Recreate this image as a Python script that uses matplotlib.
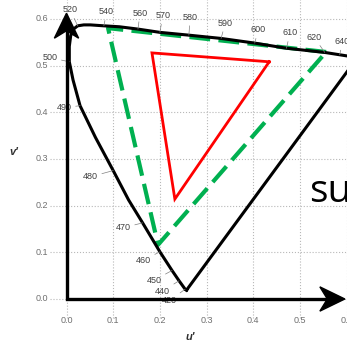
import numpy as np
import matplotlib
matplotlib.use("Agg")
import matplotlib.pyplot as plt
from matplotlib.patches import Polygon

# spectral locus (CIE 1976 u', v')
locus_nm = [380, 420, 440, 450, 460, 470, 475, 480, 485, 490, 495, 500, 505, 510, 515,
            520, 525, 530, 540, 550, 560, 570, 580, 590, 600, 610, 620, 640, 700]
locus_u = [0.257, 0.254, 0.241, 0.226, 0.200, 0.163, 0.133, 0.100, 0.062, 0.029, 0.014,
           0.006, 0.006, 0.009, 0.015, 0.024, 0.037, 0.051, 0.080, 0.113, 0.153, 0.200,
           0.262, 0.331, 0.403, 0.471, 0.553, 0.585, 0.623]
locus_v = [0.019, 0.021, 0.039, 0.061, 0.101, 0.163, 0.212, 0.275, 0.346, 0.414, 0.469,
           0.508, 0.541, 0.564, 0.578, 0.585, 0.587, 0.587, 0.585, 0.583, 0.578, 0.571,
           0.565, 0.558, 0.548, 0.537, 0.528, 0.523, 0.517]

# wavelengths that carry a label
label_nm = [420, 440, 450, 460, 470, 480, 490, 500, 520, 540, 560, 570, 580, 590,
            600, 610, 620, 640]

# gamut triangles, corners R, G, B
wide_u = [0.556, 0.089, 0.196]
wide_v = [0.529, 0.580, 0.116]
small_u = [0.434, 0.183, 0.232]
small_v = [0.508, 0.527, 0.214]

ticks = [0.0, 0.1, 0.2, 0.3, 0.4, 0.5, 0.6]
tick_labels = ['0.0', '0.1', '0.2', '0.3', '0.4', '0.5', '0.6']

# label offsets in points (placement only)
label_offset = {420: (-11.5, -8.5), 440: (-12, -7.5), 450: (-13, -7), 460: (-12, -6),
                470: (-14, -3.5), 480: (-16.5, -4.5), 490: (-11.5, -1.5), 500: (-14, 3),
                520: (-5.5, 11.5), 540: (2, 10), 560: (1.5, 11.5), 570: (2, 12),
                580: (1, 13), 590: (3, 11), 600: (2.5, 9.5), 610: (2.5, 11),
                620: (-7.7, 11), 640: (2, 9.5)}

plt.rcParams['font.family'] = ['Liberation Sans', 'DejaVu Sans']

fig = plt.figure(figsize=(3.47, 3.42), dpi=100)
ax = fig.add_axes([0, 0, 1, 1])
ax.set_xlim(-0.1424, 0.6006)
ax.set_ylim(-0.0921, 0.6403)
ax.axis('off')

# dotted grid
ax.hlines(ticks, -0.035, 0.62, colors='#b8b8b8', linestyles=':', lw=0.8, zorder=1)
ax.vlines(ticks, -0.04, 0.65, colors='#b8b8b8', linestyles=':', lw=0.8, zorder=1)

for t, lab in zip(ticks, tick_labels):
    ax.text(t, -0.045, lab, ha='center', va='center', fontsize=6.5, color='#707070')
    ax.text(-0.040, t, lab, ha='right', va='center', fontsize=6.5, color='#707070')

ax.text(-0.112, 0.315, "v'", ha='center', va='center', fontsize=8,
        fontweight='bold', fontstyle='italic', color='#303030')
ax.text(0.264, -0.081, "u'", ha='center', va='center', fontsize=8,
        fontweight='bold', fontstyle='italic', color='#303030')

# gamuts
ax.plot(wide_u + wide_u[:1], wide_v + wide_v[:1], color='#00b050', lw=3,
        linestyle=(0, (5, 2)), zorder=3)
ax.plot(small_u + small_u[:1], small_v + small_v[:1], color='#ff0000', lw=2,
        solid_joinstyle='miter', zorder=4)

# spectral locus, closed by the purple line
ax.plot(locus_u + locus_u[:1], locus_v + locus_v[:1], color='black', lw=2.2,
        solid_joinstyle='round', zorder=5)

for nm in label_nm:
    i = locus_nm.index(nm)
    ax.annotate(str(nm), xy=(locus_u[i], locus_v[i]), xytext=label_offset[nm],
                textcoords='offset points', ha='center', va='center',
                fontsize=6.5, color='#404040', zorder=6,
                arrowprops=dict(arrowstyle='-', color='#808080', lw=0.5,
                                shrinkA=1, shrinkB=0))

# axis arrows
v_tip = 0.612
u_tip = 0.596
head_len = 0.0535
head_half = 0.026
notch = 0.016
ax.plot([0, 0, u_tip - head_len + notch], [v_tip - head_len + notch, 0, 0],
        color='black', lw=2.4, solid_joinstyle='miter', zorder=7)
ax.add_patch(Polygon([(0, v_tip), (-head_half, v_tip - head_len),
                      (0, v_tip - head_len + notch), (head_half, v_tip - head_len)],
                     closed=True, color='black', zorder=7))
ax.add_patch(Polygon([(u_tip, 0), (u_tip - head_len, head_half),
                      (u_tip - head_len + notch, 0), (u_tip - head_len, -head_half)],
                     closed=True, color='black', zorder=7))

ax.text(0.519, 0.208, 'su', ha='left', va='baseline', fontsize=28,
        family='Open Sans', color='black', zorder=8)

fig.savefig('out.png', dpi=100)
